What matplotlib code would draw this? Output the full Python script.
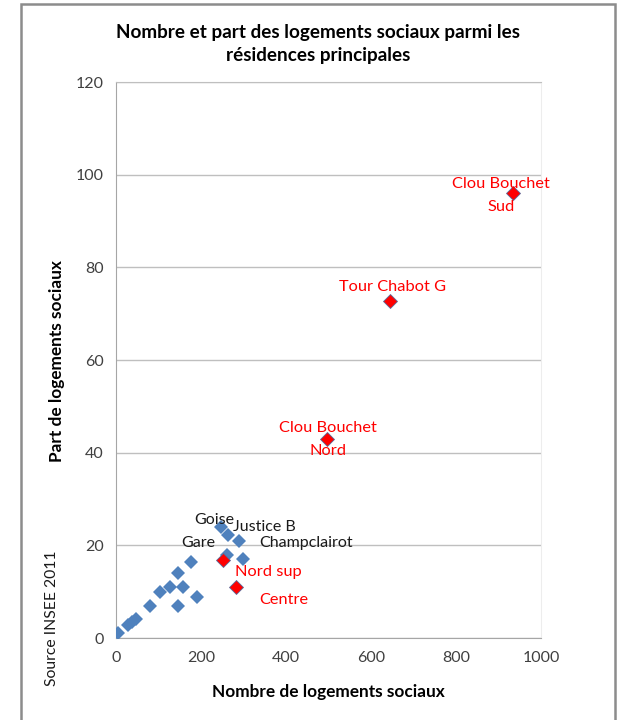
import matplotlib.pyplot as plt
from matplotlib.patches import Rectangle

plt.rcParams['font.family'] = ['Lato', 'DejaVu Sans']

# quartiers (bleu)
x_bleu = [4, 29, 38, 47, 80, 103, 128, 146, 157, 146, 177, 191, 247, 263, 290, 262, 299]
y_bleu = [1, 2.8, 3.4, 4.0, 6.9, 10, 10.9, 14, 10.9, 6.9, 16.5, 8.9, 24, 22.2, 21, 18, 17]

# quartiers prioritaires (rouge)
x_rouge = [251, 282, 497, 645, 935]
y_rouge = [16.8, 11, 42.9, 72.8, 96]

# etiquettes : (texte, x, y, decalage en pixels)
lab_bleu = [("Goise", 263, 22.2, (-14, 15)),
            ("Justice B", 247, 24, (43, 0)),
            ("Gare", 177, 16.5, (7, 19)),
            ("Champclairot", 290, 21, (67, -2))]
lab_rouge = [("Nord sup", 251, 16.8, (46, -12)),
             ("Centre", 282, 11, (48, -13)),
             ("Clou Bouchet\nNord", 497, 42.9, (1, 0)),
             ("Tour Chabot G", 645, 72.8, (2, 14)),
             ("Clou Bouchet\nSud", 935, 96, (-12, -2))]

fig = plt.figure(figsize=(6.17, 7.2), dpi=100)
ax = fig.add_axes([116/617, 82/720, 425/617, 556/720])

ax.plot(x_bleu, y_bleu, 'D', color='#4F81BD', markersize=7.5, markeredgewidth=0, zorder=3)
ax.plot(x_rouge, y_rouge, 'D', color='#FF0000', markersize=7.5,
        markeredgecolor='#5A6A9A', markeredgewidth=0.6, zorder=4)

for t, x, y, off in lab_bleu:
    ax.annotate(t, (x, y), xytext=off, textcoords='offset pixels',
                ha='center', va='center', fontsize=11.5, color='#1a1a1a', zorder=5)
for t, x, y, off in lab_rouge:
    ax.annotate(t, (x, y), xytext=off, textcoords='offset pixels',
                ha='center', va='center', fontsize=11.8, color='#FF0000',
                linespacing=1.8, zorder=5)

ax.set_xlim(0, 1000)
ax.set_ylim(0, 120)
ax.set_xticks(range(0, 1001, 200))
ax.set_yticks(range(0, 121, 20))
ax.tick_params(length=0, labelsize=11.5, colors='#404040', pad=9)
ax.grid(axis='y', color='#BFBFBF', linewidth=1)
ax.set_axisbelow(True)
for s in ['left', 'bottom']:
    ax.spines[s].set_color('#A6A6A6')
ax.spines['top'].set_color('#BFBFBF')
ax.spines['right'].set_color('#EDEDED')

fig.text(318/617, 1 - 44/720, "Nombre et part des logements sociaux parmi les\nrésidences principales",
         ha='center', va='center', fontsize=13.6, fontweight='bold', linespacing=1.45)
fig.text(328/617, 1 - 692/720, "Nombre de logements sociaux",
         ha='center', va='center', fontsize=12.4, fontweight='bold')
fig.text(57/617, 1 - 361/720, "Part de logements sociaux", rotation=90,
         ha='center', va='center', fontsize=12.4, fontweight='bold')
fig.text(52/617, 1 - 618/720, "Source INSEE 2011", rotation=90,
         ha='center', va='center', fontsize=11.3, color='#1a1a1a')

fig.patches.append(Rectangle((21/617, -0.05), 594/617, 1.05 - 4/720, transform=fig.transFigure,
                             fill=False, edgecolor='#8C8C8C', linewidth=1.8))

fig.savefig('out.png', dpi=100)
